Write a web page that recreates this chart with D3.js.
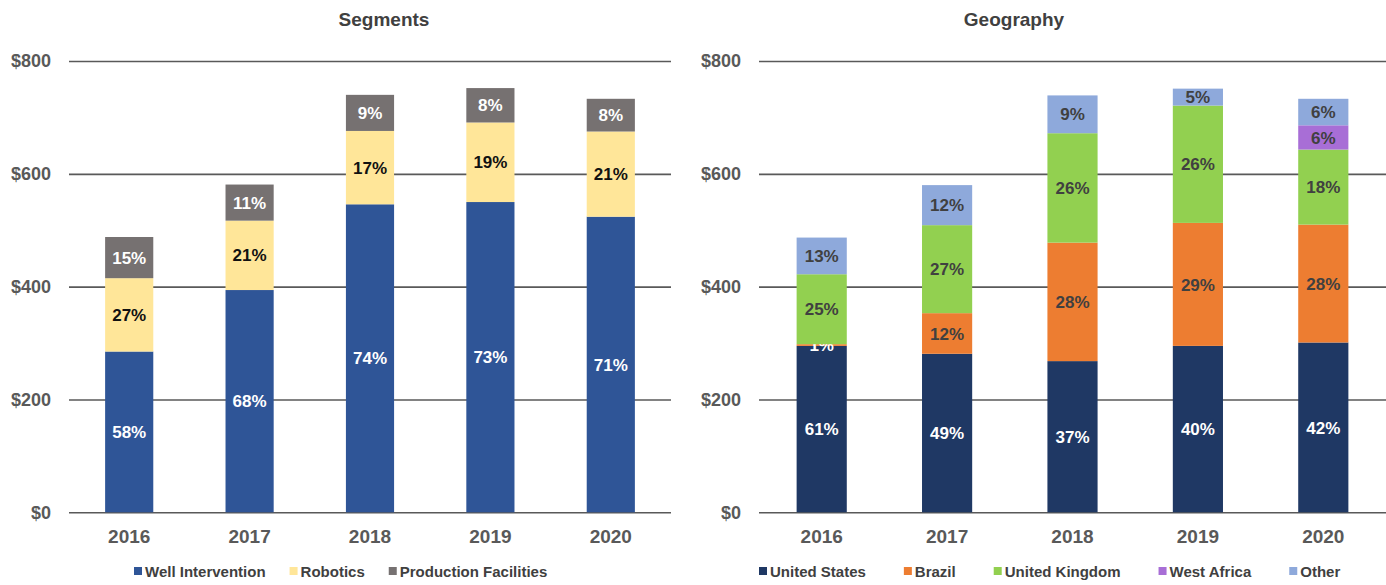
<!DOCTYPE html>
<html>
<head>
<meta charset="utf-8">
<script src="https://cdn.jsdelivr.net/npm/d3@7"></script>
<style>
  body { margin: 0; background: #fff; }
  svg { font-family: "Liberation Sans", Arial, sans-serif; font-weight: bold; }
</style>
</head>
<body>
<div id="chart"></div>
<script>
(function() {
  // values ($ millions)
  var years = ["2016", "2017", "2018", "2019", "2020"];
  var yTicks = [0, 200, 400, 600, 800];

  var wellIntervention = [285, 394, 546, 550, 524];
  var robotics = [130, 123, 130, 141, 151];
  var productionFacilities = [73, 64, 64, 61, 58];
  var wellPct = ["58%", "68%", "74%", "73%", "71%"];
  var roboticsPct = ["27%", "21%", "17%", "19%", "21%"];
  var facilitiesPct = ["15%", "11%", "9%", "8%", "8%"];

  var unitedStates = [295, 281, 268, 295, 301];
  var brazil = [3, 72, 210, 218, 209];
  var unitedKingdom = [124, 156, 194, 208, 133];
  var westAfrica = [0, 0, 0, 0, 43];
  var other = [65, 71, 67, 30, 47];
  var usPct = ["61%", "49%", "37%", "40%", "42%"];
  var brazilPct = ["1%", "12%", "28%", "29%", "28%"];
  var ukPct = ["25%", "27%", "26%", "26%", "18%"];
  var westAfricaPct = ["", "", "", "", "6%"];
  var otherPct = ["13%", "12%", "9%", "5%", "6%"];

  var width = 1386, height = 585;
  var top = 61, bottom = 512.3;

  var svg = d3.select("#chart")
    .append("svg")
    .attr("width", width)
    .attr("height", height);

  var y = d3.scaleLinear().domain([0, 800]).range([bottom, top]);

  function drawPanel(p) {
    var x = d3.scaleBand()
      .domain(years)
      .range([p.left, p.right])
      .paddingInner(0.6)
      .paddingOuter(0.3);

    var g = svg.append("g");

    // gridlines + y labels
    var yAxis = g.append("g")
      .attr("transform", "translate(" + p.left + ",0)")
      .call(d3.axisLeft(y)
        .tickValues(yTicks)
        .tickSize(-(p.right - p.left))
        .tickPadding(18)
        .tickFormat(function(d) { return "$" + d; }));
    yAxis.select(".domain").remove();
    yAxis.selectAll("line").attr("stroke", "#595959").attr("stroke-width", 1.6);
    yAxis.selectAll("text")
      .attr("fill", "#595959")
      .style("font-size", "18px")
      .style("font-family", "Liberation Sans, Arial, sans-serif")
      .style("font-weight", "bold");

    var xAxis = g.append("g")
      .attr("transform", "translate(0," + bottom + ")")
      .call(d3.axisBottom(x).tickSize(0).tickPadding(17));
    xAxis.select(".domain").remove();
    xAxis.selectAll("text")
      .attr("fill", "#595959")
      .style("font-size", "19px")
      .style("font-family", "Liberation Sans, Arial, sans-serif")
      .style("font-weight", "bold");

    var rows = years.map(function(yr, i) {
      var row = { year: yr };
      p.series.forEach(function(s) { row[s.key] = s.values[i]; });
      return row;
    });

    var stacked = d3.stack()
      .keys(p.series.map(function(s) { return s.key; }))(rows);

    var layers = g.selectAll(".layer")
      .data(stacked)
      .enter().append("g")
      .attr("fill", function(d, i) { return p.series[i].color; });

    layers.selectAll("rect")
      .data(function(d) { return d; })
      .enter().append("rect")
      .attr("x", function(d) { return x(d.data.year); })
      .attr("width", x.bandwidth())
      .attr("y", function(d) { return y(d[1]); })
      .attr("height", function(d) { return y(d[0]) - y(d[1]); });

    layers.each(function(layer, i) {
      var s = p.series[i];
      d3.select(this).selectAll("text")
        .data(layer)
        .enter().append("text")
        .attr("x", function(d) { return x(d.data.year) + x.bandwidth() / 2; })
        .attr("y", function(d) { return (y(d[0]) + y(d[1])) / 2; })
        .attr("dy", "0.36em")
        .attr("text-anchor", "middle")
        .attr("fill", function(d) {
          // tiny slices sit on the dark bar below, so go white
          return (y(d[0]) - y(d[1]) < 10) ? "#ffffff" : s.labelColor;
        })
        .style("font-size", "17px")
        .text(function(d, j) { return s.labels[j]; });
    });

    // title
    svg.append("text")
      .attr("x", p.titleX)
      .attr("y", 26)
      .attr("text-anchor", "middle")
      .attr("fill", "#404040")
      .style("font-size", "19px")
      .text(p.title);

    // legend, laid out left to right
    var lx = p.legendX;
    p.series.forEach(function(s) {
      svg.append("rect")
        .attr("x", lx)
        .attr("y", 567)
        .attr("width", 8)
        .attr("height", 8)
        .attr("fill", s.color);
      var t = svg.append("text")
        .attr("x", lx + 11)
        .attr("y", 576.5)
        .attr("fill", "#404040")
        .style("font-size", "15px")
        .text(s.name);
      lx += 11 + t.node().getComputedTextLength() + p.legendGap;
    });
  }

  drawPanel({
    title: "Segments",
    titleX: 384,
    left: 69,
    right: 671,
    legendX: 134,
    legendGap: 24,
    series: [
      { key: "wi", name: "Well Intervention", values: wellIntervention, labels: wellPct, color: "#2F5597", labelColor: "#ffffff" },
      { key: "rob", name: "Robotics", values: robotics, labels: roboticsPct, color: "#FFE699", labelColor: "#111111" },
      { key: "pf", name: "Production Facilities", values: productionFacilities, labels: facilitiesPct, color: "#767171", labelColor: "#ffffff" }
    ]
  });

  drawPanel({
    title: "Geography",
    titleX: 1014,
    left: 759,
    right: 1386,
    legendX: 759,
    legendGap: 38,
    series: [
      { key: "us", name: "United States", values: unitedStates, labels: usPct, color: "#1F3864", labelColor: "#ffffff" },
      { key: "br", name: "Brazil", values: brazil, labels: brazilPct, color: "#ED7D31", labelColor: "#404040" },
      { key: "uk", name: "United Kingdom", values: unitedKingdom, labels: ukPct, color: "#92D050", labelColor: "#404040" },
      { key: "wa", name: "West Africa", values: westAfrica, labels: westAfricaPct, color: "#A86ED6", labelColor: "#404040" },
      { key: "oth", name: "Other", values: other, labels: otherPct, color: "#8EA9DB", labelColor: "#404040" }
    ]
  });
})();
</script>
</body>
</html>
